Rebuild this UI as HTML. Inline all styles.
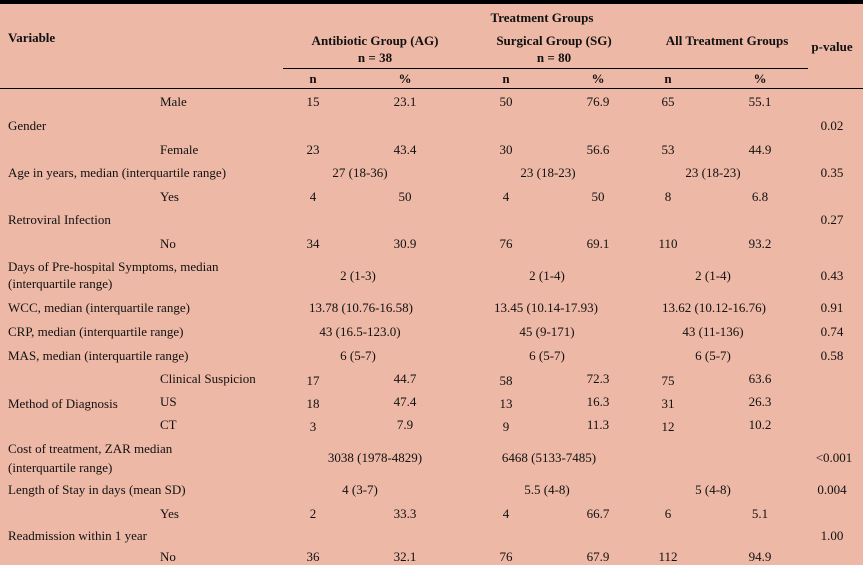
<!DOCTYPE html>
<html><head><meta charset="utf-8">
<style>
html,body{margin:0;padding:0}
body{width:863px;height:561px;background:#EDB8A6;position:relative;overflow:hidden;font-family:"Liberation Serif",serif;font-size:13px;color:#111}
.t{position:absolute;white-space:nowrap;line-height:16px;transform:translateY(-8px)}
.c{transform:translate(-50%,-8px)}
.b{font-weight:bold}
.line{position:absolute;background:#000}
</style></head>
<body>
<div class="line" style="left:0;top:0;width:863px;height:4px"></div>
<div class="line" style="left:283px;top:68px;width:525px;height:1px"></div>
<div class="line" style="left:0;top:88px;width:863px;height:1px"></div>
<div id="root"></div>
<script>
var cells = [
 // header
 [8,38,"Variable","l",1],[542,18,"Treatment Groups","c",1],
 [375,41,"Antibiotic Group (AG)","c",1],[375,58,"n = 38","c",1],
 [554,41,"Surgical Group (SG)","c",1],[554,58,"n = 80","c",1],
 [727,41,"All Treatment Groups","c",1],[832,47,"p-value","c",1],
 [313,79,"n","c",1],[405,79,"%","c",1],[506,79,"n","c",1],[598,79,"%","c",1],[668,79,"n","c",1],[760,79,"%","c",1],
 // rows
 [160,102,"Male","l"],[313,102,"15","c"],[405,102,"23.1","c"],[506,102,"50","c"],[598,102,"76.9","c"],[668,102,"65","c"],[760,102,"55.1","c"],
 [8,126,"Gender","l"],[832,126,"0.02","c"],
 [160,150,"Female","l"],[313,150,"23","c"],[405,150,"43.4","c"],[506,150,"30","c"],[598,150,"56.6","c"],[668,150,"53","c"],[760,150,"44.9","c"],
 [8,173,"Age in years, median (interquartile range)","l"],[360,173,"27 (18-36)","c"],[548,173,"23 (18-23)","c"],[713,173,"23 (18-23)","c"],[832,173,"0.35","c"],
 [160,197,"Yes","l"],[313,197,"4","c"],[405,197,"50","c"],[506,197,"4","c"],[598,197,"50","c"],[668,197,"8","c"],[760,197,"6.8","c"],
 [8,220,"Retroviral Infection","l"],[832,220,"0.27","c"],
 [160,244,"No","l"],[313,244,"34","c"],[405,244,"30.9","c"],[506,244,"76","c"],[598,244,"69.1","c"],[668,244,"110","c"],[760,244,"93.2","c"],
 [8,267,"Days of Pre-hospital Symptoms, median","l"],[8,284,"(interquartile range)","l"],[358,276,"2 (1-3)","c"],[547,276,"2 (1-4)","c"],[713,276,"2 (1-4)","c"],[832,276,"0.43","c"],
 [8,308,"WCC, median (interquartile range)","l"],[361,308,"13.78 (10.76-16.58)","c"],[546,308,"13.45 (10.14-17.93)","c"],[714,308,"13.62 (10.12-16.76)","c"],[832,308,"0.91","c"],
 [8,332,"CRP, median (interquartile range)","l"],[360,332,"43 (16.5-123.0)","c"],[547,332,"45 (9-171)","c"],[713,332,"43 (11-136)","c"],[832,332,"0.74","c"],
 [8,356,"MAS, median (interquartile range)","l"],[358,356,"6 (5-7)","c"],[547,356,"6 (5-7)","c"],[713,356,"6 (5-7)","c"],[832,356,"0.58","c"],
 [160,379,"Clinical Suspicion","l"],[313,381,"17","c"],[405,379,"44.7","c"],[506,381,"58","c"],[598,379,"72.3","c"],[668,381,"75","c"],[760,379,"63.6","c"],
 [8,404,"Method of Diagnosis","l"],[160,402,"US","l"],[313,404,"18","c"],[405,402,"47.4","c"],[506,404,"13","c"],[598,402,"16.3","c"],[668,404,"31","c"],[760,402,"26.3","c"],
 [160,425,"CT","l"],[313,427,"3","c"],[405,425,"7.9","c"],[506,427,"9","c"],[598,425,"11.3","c"],[668,427,"12","c"],[760,425,"10.2","c"],
 [8,449,"Cost of treatment, ZAR median","l"],[8,468,"(interquartile range)","l"],[375,458,"3038 (1978-4829)","c"],[549,458,"6468 (5133-7485)","c"],[834,458,"<0.001","c"],
 [8,490,"Length of Stay in days (mean SD)","l"],[360,490,"4 (3-7)","c"],[547,490,"5.5 (4-8)","c"],[713,490,"5 (4-8)","c"],[832,490,"0.004","c"],
 [160,514,"Yes","l"],[313,514,"2","c"],[405,514,"33.3","c"],[506,514,"4","c"],[598,514,"66.7","c"],[668,514,"6","c"],[760,514,"5.1","c"],
 [8,536,"Readmission within 1 year","l"],[832,536,"1.00","c"],
 [160,557,"No","l"],[313,557,"36","c"],[405,557,"32.1","c"],[506,557,"76","c"],[598,557,"67.9","c"],[668,557,"112","c"],[760,557,"94.9","c"]
];
var root = document.getElementById('root');
cells.forEach(function(c){
  var d = document.createElement('div');
  d.className = 't' + (c[3]==='c' ? ' c' : '') + (c[4] ? ' b' : '');
  d.style.left = c[0] + 'px';
  d.style.top = c[1] + 'px';
  d.textContent = c[2];
  
  
  root.appendChild(d);
});
</script>
</body></html>
